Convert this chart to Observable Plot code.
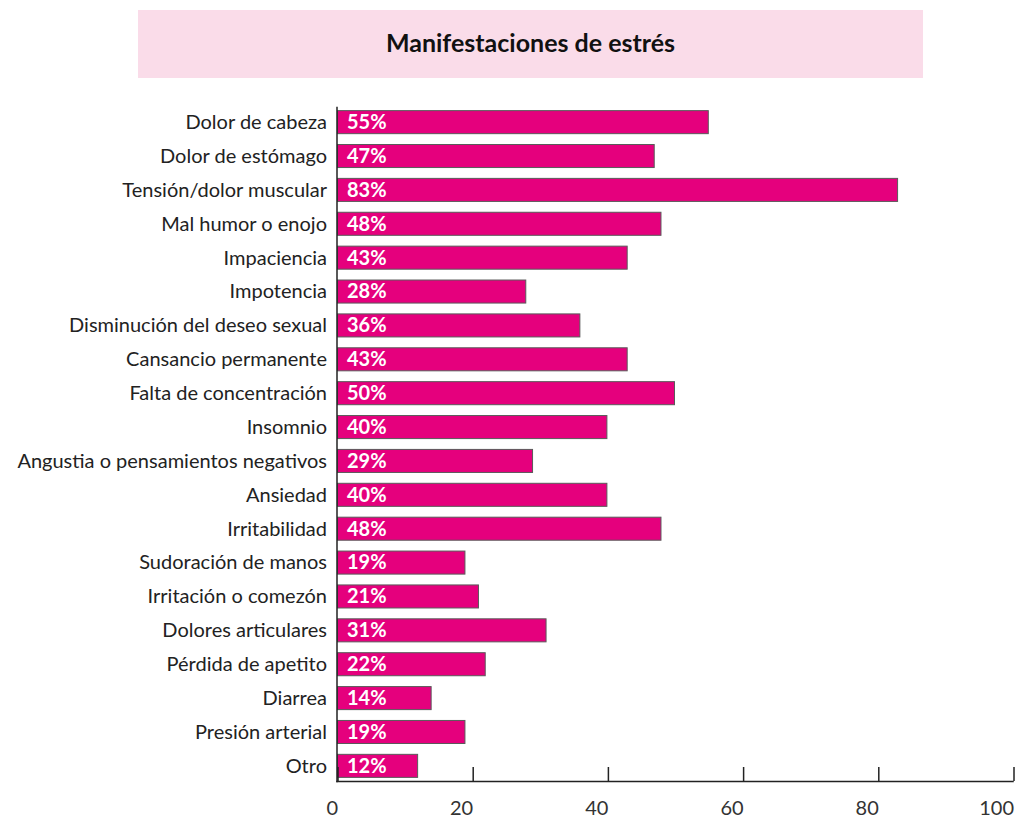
<!DOCTYPE html>
<html>
<head>
<meta charset="utf-8">
<script src="https://cdn.jsdelivr.net/npm/d3@7"></script>
<script src="https://cdn.jsdelivr.net/npm/@observablehq/plot@0.6"></script>
<style>
  html, body { margin: 0; padding: 0; background: #fff; }
  body { width: 1016px; height: 818px; position: relative; overflow: hidden; font-family: Lato, "Open Sans", sans-serif; }
  #title { position: absolute; left: 138px; top: 10px; width: 785px; height: 68px; background: #FADCE9;
           display: flex; align-items: center; justify-content: center; font-weight: bold; font-size: 25px; color: #111;
           padding-bottom: 4px; box-sizing: border-box; }
  #chart { position: absolute; left: 0; top: 78px; }
</style>
</head>
<body>
<div id="title">Manifestaciones de estrés</div>
<div id="chart"></div>
<script>
const categories = [
  "Dolor de cabeza", "Dolor de estómago", "Tensión/dolor muscular", "Mal humor o enojo",
  "Impaciencia", "Impotencia", "Disminución del deseo sexual", "Cansancio permanente",
  "Falta de concentración", "Insomnio", "Angustia o pensamientos negativos", "Ansiedad",
  "Irritabilidad", "Sudoración de manos", "Irritación o comezón", "Dolores articulares",
  "Pérdida de apetito", "Diarrea", "Presión arterial", "Otro"
];
const values = [55, 47, 83, 48, 43, 28, 36, 43, 50, 40, 29, 40, 48, 19, 21, 31, 22, 14, 19, 12];
const xTicks = [0, 20, 40, 60, 80, 100];

const data = categories.map((c, i) => ({category: c, value: values[i]}));

const chart = Plot.plot({
  width: 1016,
  height: 740,
  marginTop: 29,
  marginBottom: 37,
  marginLeft: 336.5,
  marginRight: 3.5,
  style: {fontFamily: "Lato, 'Open Sans', sans-serif", fontSize: "20px", color: "#222", background: "transparent"},
  x: {domain: [0, 100], ticks: xTicks, label: null},
  y: {domain: categories, paddingInner: 0.32, paddingOuter: 0.107, round: false, label: null},
  marks: [
    Plot.barX(data, {y: "category", x: "value", fill: "#E5007D", stroke: "#5a5a5a", strokeWidth: 1, insetLeft: 1}),
    Plot.text(data, {y: "category", x: 0, text: d => d.value + "%", textAnchor: "start", dx: 10, fill: "white",
                     fontWeight: "bold", fontSize: 20}),
    Plot.axisY({tickSize: 0, tickPadding: 10, fontSize: 20, fill: "#222"}),
    Plot.axisX({ticks: xTicks, tickSize: -14, tickPadding: 33, fontSize: 20, fill: "#333", stroke: "#222",
                strokeWidth: 1.5, textAnchor: "end", dx: 1}),
    Plot.frame({anchor: "bottom", stroke: "#222", strokeWidth: 1.5}),
    Plot.frame({anchor: "left", stroke: "#222", strokeWidth: 1.5})
  ]
});
document.getElementById("chart").appendChild(chart);
</script>
</body>
</html>
